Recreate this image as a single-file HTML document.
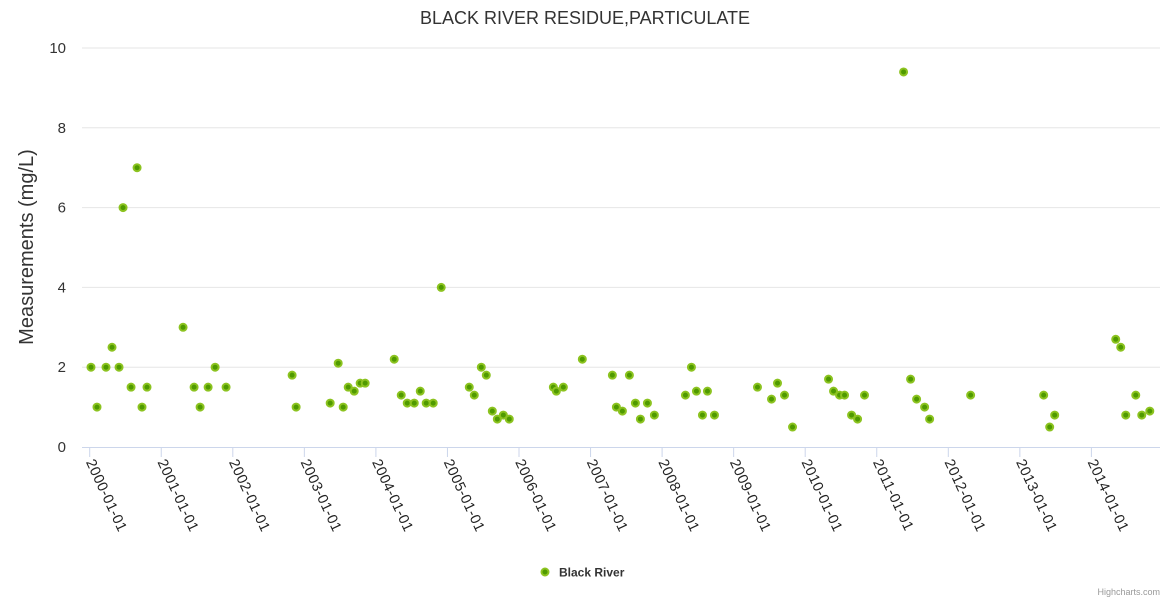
<!DOCTYPE html>
<html><head><meta charset="utf-8"><style>
body{margin:0;background:#fff;}
svg{display:block;font-family:"Liberation Sans",sans-serif;}
</style></head><body>
<svg id="chart" width="1170" height="600">
<text x="585" y="24" text-anchor="middle" font-size="18" fill="#333">BLACK RIVER RESIDUE,PARTICULATE</text>
<text transform="translate(33,247) rotate(-90)" text-anchor="middle" font-size="20" fill="#333">Measurements (mg/L)</text>
<g id="grid"></g><g id="xaxis"></g><g id="points"></g>
<g>
<circle cx="545" cy="572" r="3.5" fill="#4f9a00" stroke="#8cc320" stroke-width="2"/>
<text x="559" y="576.5" font-size="12" font-weight="bold" fill="#333">Black River</text>
</g>
<text x="1160" y="595" text-anchor="end" font-size="9" fill="#999">Highcharts.com</text>
</svg>
<script>
const yearOffsets=[0.018,0.102,0.228,0.312,0.41,0.466,0.578,0.662,0.731,0.801,1.305,1.459,1.543,1.655,1.753,1.906,2.829,2.885,3.361,3.473,3.543,3.613,3.697,3.780,3.850,4.256,4.354,4.438,4.536,4.620,4.703,4.801,4.913,5.305,5.375,5.473,5.543,5.627,5.697,5.781,5.864,6.480,6.522,6.620,6.885,7.305,7.361,7.445,7.543,7.627,7.697,7.795,7.892,8.326,8.410,8.480,8.564,8.634,8.732,9.333,9.529,9.613,9.711,9.823,10.326,10.396,10.480,10.550,10.648,10.732,10.829,11.375,11.473,11.557,11.669,11.739,12.312,13.333,13.417,13.487,14.340,14.410,14.480,14.620,14.704,14.816];
const values=[2,1,2,2.5,2,6,1.5,7,1,1.5,3,1.5,1,1.5,2,1.5,1.8,1,1.1,2.1,1,1.5,1.4,1.6,1.6,2.2,1.3,1.1,1.1,1.4,1.1,1.1,4,1.5,1.3,2,1.8,0.9,0.7,0.8,0.7,1.5,1.4,1.5,2.2,1.8,1,0.9,1.8,1.1,0.7,1.1,0.8,1.3,2,1.4,0.8,1.4,0.8,1.5,1.2,1.6,1.3,0.5,1.7,1.4,1.3,1.3,0.8,0.7,1.3,9.4,1.7,1.2,1,0.7,1.3,1.3,0.5,0.8,2.7,2.5,0.8,1.3,0.8,0.9];
const yTicks=[0,2,4,6,8,10];
const xTickYears=[2000,2001,2002,2003,2004,2005,2006,2007,2008,2009,2010,2011,2012,2013,2014];
const NS="http://www.w3.org/2000/svg";
const X=o=>89.7+o*71.55, Y=v=>447-v*39.9;
function mk(t,a,p){const e=document.createElementNS(NS,t);for(const k in a)e.setAttribute(k,a[k]);p.appendChild(e);return e;}
const g=document.getElementById('grid');
yTicks.forEach(t=>{
  if(t>0){const l=mk('line',{x1:82,x2:1160,y1:Y(t),y2:Y(t),stroke:'#e6e6e6'},g);
  
  }
  const tx=mk('text',{x:66,y:Y(t)+5,'text-anchor':'end','font-size':15,fill:'#333'},g);
  tx.textContent=t;
  
  
});
const xa=document.getElementById('xaxis');
const ax=mk('line',{x1:82,x2:1160,y1:447.5,y2:447.5,stroke:'#ccd6eb'},xa);


xTickYears.forEach(yr=>{
  const x=X(yr-2000);
  const tk=mk('line',{x1:x,x2:x,y1:447,y2:457,stroke:'#ccd6eb'},xa);
  
  
  const tx=mk('text',{transform:`translate(${x-4},${462}) rotate(65)`,'font-size':14.5,'letter-spacing':'0.4',fill:'#222'},xa);
  tx.textContent=yr+'-01-01';
  
  
});
const pg=document.getElementById('points');
yearOffsets.forEach((o,i)=>{
  const c=mk('circle',{cx:X(o),cy:Y(values[i]),r:3.5,fill:'#4f9a00',stroke:'#8cc320','stroke-width':2},pg);
  
  
});
</script>
</body></html>
